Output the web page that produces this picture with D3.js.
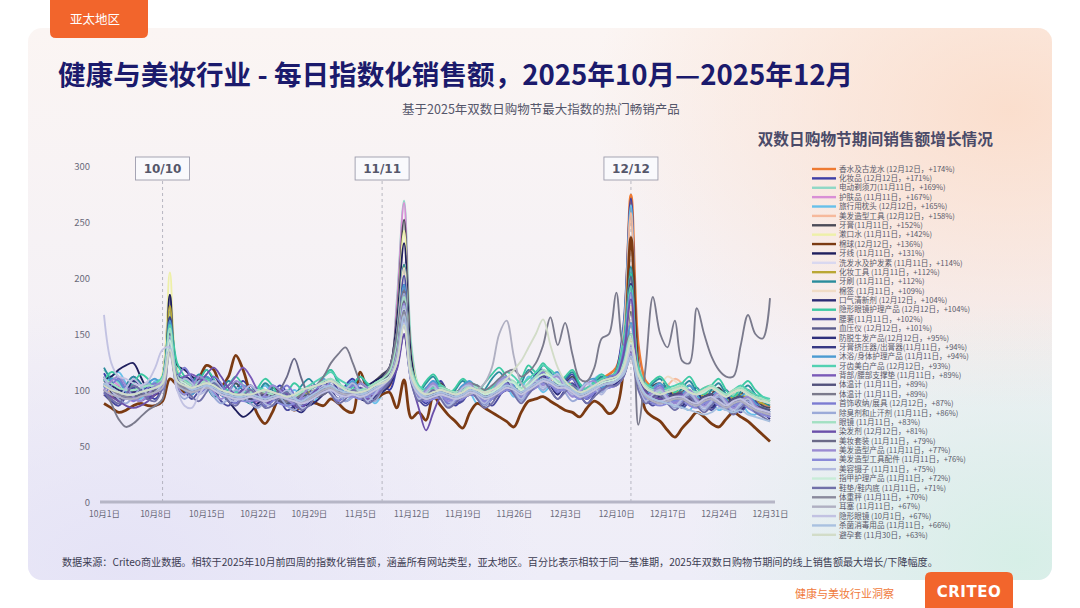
<!DOCTYPE html>
<html>
<head>
<meta charset="utf-8">
<script src="https://cdn.jsdelivr.net/npm/d3@7"></script>
<style>
  body{margin:0;background:#fff;font-family:"Noto Sans CJK SC","Noto Sans",sans-serif;}
  svg{display:block;}
</style>
</head>
<body>
<div class="canvas"></div>
<script>
// ---- data ----
const startDay = "2025-10-01";   // first day, one value per day up to 12/31
const endDay = "2025-12-31";

const xTickDates = ["2025-10-01","2025-10-08","2025-10-15","2025-10-22","2025-10-29","2025-11-05","2025-11-12",
                    "2025-11-19","2025-11-26","2025-12-03","2025-12-10","2025-12-17","2025-12-24","2025-12-31"];
const xTickLabels = ["10月1日","10月8日","10月15日","10月22日","10月29日","11月5日","11月12日",
                     "11月19日","11月26日","12月3日","12月10日","12月17日","12月24日","12月31日"];
const yTicks = [0,50,100,150,200,250,300];

const markerLabels = ["10/10","11/11","12/12"];
const markerDates = ["2025-10-09","2025-11-08","2025-12-12"];

const legendLabels = [
  "香水及古龙水 (12月12日，+174%)","化妆品 (12月12日，+171%)","电动剃须刀(11月11日，+169%)",
  "护肤品 (11月11日，+167%)","旅行用枕头 (12月12日，+165%)","美发造型工具 (12月12日，+158%)",
  "牙膏(11月11日，+152%)","漱口水 (11月11日，+142%)","棉球(12月12日，+136%)",
  "牙线 (11月11日，+131%)","洗发水及护发素  (11月11日，+114%)","化妆工具 (11月11日，+112%)",
  "牙刷 (11月11日，+112%)","棉签 (11月11日，+109%)","口气清新剂 (12月12日，+104%)",
  "隐形眼镜护理产品 (12月12日，+104%)","腰薯(11月11日，+102%)","血压仪 (12月12日，+101%)",
  "防脱生发产品(12月12日，+95%)","牙膏挤压器/出膏器(11月11日，+94%)","沐浴/身体护理产品 (11月11日，+94%)",
  "牙齿美白产品 (12月12日，+93%)","背部/腰部支撑垫 (11月11日，+89%)","体温计 (11月11日，+89%)",
  "体温计 (11月11日，+89%)","首饰收纳/展具 (12月12日，+87%)","除臭剂和止汗剂 (11月11日，+86%)",
  "眼镜 (11月11日，+83%)","染发剂 (12月12日，+81%)","美妆套装 (11月11日，+79%)",
  "美发造型产品 (11月11日，+77%)","美发造型工具配件 (11月11日，+76%)","美容镊子 (11月11日，+75%)",
  "指甲护理产品 (11月11日，+72%)","鞋垫/鞋内底 (11月11日，+71%)","体重秤 (11月11日，+70%)",
  "耳塞 (11月11日，+67%)","隐形眼镜 (10月1日，+67%)","杀菌消毒用品 (11月11日，+66%)",
  "避孕套 (11月30日，+63%)"
];

// daily index values, Oct 1 .. Dec 31 (92 per product, same order as legend)
const seriesValues = [
  [96,94,92,95,98,97,95,96,104,150, 112,102,100,103,105,102,98,97,95,96, 94,92,94,96,95,92,90,92,95,98, 102,104,100,98,96,95,98,102,100,104, 125,172,118,100,96,98,100,97,95,98, 100,98,96,98,102,104,100,98,102,108, 112,110,106,108,104,100,102,106,110,114, 120,150,274,140,108,102,98,96,100,102, 96,94,98,100,96,94,98,100,94,92, 88,84],
  [115,104,96,104,112,106,96,92,104,160, 118,104,96,108,118,108,96,92,100,108, 100,90,86,96,104,98,88,84,92,102, 108,98,92,104,110,100,90,96,106,100, 120,180,116,96,88,100,108,96,86,94, 106,100,88,92,104,112,102,92,102,114, 118,106,96,108,114,100,92,104,112,106, 118,160,271,130,100,90,98,104,94,88, 96,102,92,86,94,100,90,84,92,94, 84,78],
  [118,112,106,100,96,98,102,104,112,170, 110,104,100,102,106,104,100,98,96,94, 96,100,104,98,94,92,90,94,98,100, 104,108,102,100,98,96,100,106,110,116, 180,269,140,104,98,100,102,98,96,100, 104,100,96,98,102,106,104,100,106,112, 116,112,106,104,100,96,98,102,106,108, 112,130,190,120,100,96,94,96,98,100, 96,94,98,100,98,94,96,98,94,92, 90,88],
  [100,108,104,94,90,96,104,100,110,160, 104,96,100,108,112,104,96,92,98,102, 96,88,92,100,98,90,86,92,98,100, 96,104,100,94,98,102,96,100,106,114, 175,267,126,96,100,104,96,90,94,102, 104,96,92,98,106,110,102,96,104,110, 106,110,108,100,96,100,104,106,100,104, 110,125,175,110,96,100,102,94,88,94, 100,92,86,92,98,90,86,90,94,88, 86,84],
  [104,112,116,106,96,92,100,108,110,155, 106,98,104,114,108,96,90,96,106,100, 92,98,104,96,88,92,100,94,86,92, 104,110,100,90,96,106,98,88,96,108, 122,175,108,92,100,108,98,88,94,104, 98,88,92,102,110,104,94,100,112,106, 98,104,114,108,98,92,100,110,114,108, 116,155,265,120,96,88,94,102,96,86, 82,92,98,90,82,86,94,90,80,78, 84,80],
  [100,98,96,94,96,98,96,98,106,165, 110,104,102,104,106,104,100,98,96,94, 92,94,96,94,92,90,92,94,96,98, 102,100,98,96,94,96,100,104,102,108, 130,185,120,100,96,98,100,96,94,98, 100,98,96,100,104,108,104,100,104,108, 112,110,106,104,102,98,100,104,108,110, 116,150,258,128,104,100,98,104,110,106, 100,98,102,104,98,96,100,102,96,94, 92,90],
  [110,98,90,96,104,100,92,96,112,185, 112,100,96,106,112,104,96,100,106,98, 90,86,94,102,98,88,86,94,102,104, 100,108,104,96,100,106,102,108,114,120, 165,252,130,100,94,102,106,98,92,100, 106,98,92,98,106,110,100,94,104,112, 116,108,100,106,112,102,96,104,108,104, 112,128,170,112,98,104,106,98,92,98, 104,96,90,96,102,94,88,96,100,92, 86,84],
  [108,104,100,98,96,98,100,102,115,205, 118,108,104,106,108,104,100,98,96,96, 98,96,94,96,98,96,92,94,98,102, 106,108,104,100,98,98,102,106,110,118, 160,242,130,104,100,102,104,100,98,100, 104,102,98,100,104,108,104,100,106,112, 116,112,106,106,102,98,100,104,108,110, 114,130,175,118,104,100,98,100,102,104, 98,96,100,102,98,96,98,100,96,94, 92,90],
  [88,84,80,82,86,88,86,86,90,110, 104,98,100,110,122,118,104,112,131,118, 96,78,70,80,93,88,82,86,90,88, 86,92,88,82,80,116,100,92,96,98, 84,109,75,80,73,94,86,78,72,66, 80,88,84,80,76,72,67,80,90,92, 94,90,86,82,80,76,84,90,86,79, 84,120,236,120,82,76,72,64,58,66, 73,80,76,70,67,74,80,76,72,66, 60,54],
  [110,112,118,122,124,112,100,96,104,185, 122,118,112,108,104,100,96,90,82,76, 80,88,92,96,98,94,90,94,98,102, 106,104,100,96,98,100,104,108,112,120, 160,231,128,100,96,98,100,96,94,96, 100,98,94,92,96,100,98,94,100,106, 110,106,100,102,98,94,96,100,104,106, 110,120,160,112,100,96,94,96,98,96, 92,90,94,96,92,88,92,94,90,86, 84,82],
  [96,106,110,100,92,96,104,100,98,150, 100,94,100,108,104,94,90,96,102,98, 90,86,92,100,96,88,84,90,98,102, 98,106,102,94,98,104,100,96,104,116, 150,214,114,96,100,104,96,88,92,100, 104,96,90,96,104,110,100,94,102,108, 104,112,110,100,94,98,104,106,100,104, 108,120,150,108,96,100,102,94,88,94, 100,92,86,92,98,90,84,90,94,86, 84,82],
  [104,100,98,96,96,98,100,102,108,175, 110,104,100,102,106,104,100,96,94,94, 94,96,98,96,92,90,92,96,98,100, 102,100,98,96,96,98,102,104,108,114, 145,212,118,98,94,96,98,96,94,98, 100,98,96,98,102,104,100,96,100,106, 108,106,102,102,98,96,98,102,104,106, 110,118,145,110,98,96,94,96,98,98, 94,92,96,96,92,90,94,96,92,90, 88,86],
  [120,108,98,104,112,106,98,102,112,165, 104,96,106,114,104,94,98,108,102,92, 88,96,106,100,90,86,94,104,110,104, 112,118,106,96,104,112,104,98,108,116, 148,212,118,98,106,112,100,92,100,108, 102,94,100,110,116,108,98,106,118,112, 122,116,104,110,116,104,96,106,112,104, 114,130,210,116,98,106,110,100,94,102, 108,98,92,100,106,96,90,98,104,96, 90,86],
  [102,100,98,96,96,98,98,100,106,158, 108,104,102,104,106,104,100,98,96,96, 94,94,96,94,92,90,92,94,96,98, 100,102,100,98,96,96,100,104,106,114, 146,209,118,100,96,98,100,98,96,98, 100,98,96,98,102,106,102,98,102,108, 112,110,106,104,100,98,100,104,106,108, 110,124,160,114,102,98,104,112,108,102, 98,96,100,102,98,96,98,100,96,94, 92,90],
  [108,104,100,98,96,98,102,104,110,150, 112,106,102,104,106,102,98,96,94,92, 92,90,88,86,90,92,90,88,86,90, 96,100,98,94,96,92,90,94,98,104, 120,149,108,96,92,94,96,94,90,92, 96,94,90,92,96,100,98,94,98,104, 108,106,100,102,98,94,96,100,104,108, 114,140,204,116,98,94,92,90,94,96, 90,88,92,94,90,86,90,92,86,84, 80,76],
  [108,116,112,100,106,114,110,100,108,160, 124,112,100,108,118,110,98,104,112,104, 96,102,110,104,94,98,106,100,92,100, 112,118,108,98,104,112,106,100,110,116, 130,170,116,100,108,114,104,96,102,110, 104,98,106,114,120,112,104,110,122,116, 124,114,106,112,118,106,100,108,114,110, 118,145,204,118,102,108,112,104,98,106, 112,102,96,104,110,100,94,102,108,100, 94,90],
  [96,90,86,94,102,98,92,100,108,145, 112,100,92,100,110,102,90,86,94,100, 94,86,90,98,92,82,86,96,100,94, 98,108,100,90,94,102,96,104,110,112, 140,202,112,92,86,94,102,96,88,90, 100,104,94,86,94,104,100,90,98,108, 112,100,92,100,106,96,88,96,106,104, 106,116,140,104,92,86,92,98,90,84, 90,96,88,82,90,96,86,80,88,90, 80,76],
  [104,100,98,96,94,96,98,100,106,140, 108,104,100,102,104,100,96,94,92,92, 94,92,90,92,94,92,90,88,90,94, 98,100,96,94,96,94,92,96,100,106, 125,160,110,96,92,94,96,94,92,94, 98,96,92,94,98,102,100,96,100,106, 110,108,102,104,100,96,98,102,106,110, 116,140,201,118,100,96,94,92,96,98, 92,90,94,96,92,88,92,94,88,86, 84,80],
  [112,100,92,98,108,104,94,100,110,148, 104,112,108,98,104,112,104,94,88,96, 104,96,86,90,100,96,84,80,88,98, 106,100,92,98,106,100,90,94,104,108, 124,165,108,92,98,104,96,86,90,100, 104,94,86,92,102,108,98,90,100,110, 114,104,96,106,110,98,92,100,108,112, 114,138,195,110,94,88,96,100,92,86, 94,98,88,84,92,96,86,82,90,88, 80,74],
  [110,106,102,100,98,100,102,104,110,165, 114,108,104,106,108,104,100,98,96,94, 94,92,92,94,96,94,92,90,92,96, 100,104,100,98,98,96,98,102,106,112, 140,194,114,98,94,96,98,96,94,96, 100,98,94,96,100,104,100,96,100,104, 108,106,102,102,98,94,96,100,102,104, 106,114,135,108,96,94,92,94,96,96, 92,90,94,96,92,88,92,94,90,86, 84,82],
  [102,110,108,98,92,98,106,110,104,162, 108,100,96,104,112,106,96,92,98,104, 100,92,96,104,100,90,88,96,100,104, 110,104,96,102,108,100,94,100,108,114, 142,194,112,96,102,108,100,92,96,104, 108,100,92,98,106,112,104,96,106,112, 106,112,116,104,96,100,108,110,102,108, 112,126,160,112,96,102,106,96,90,96, 104,96,88,94,100,92,86,94,98,88, 84,82],
  [110,106,102,100,100,102,104,106,112,158, 116,110,106,108,110,106,102,100,98,98, 100,102,100,98,96,94,96,100,104,108, 112,116,110,106,102,100,102,106,110,114, 128,168,120,104,100,102,104,100,98,102, 106,104,100,102,108,116,112,106,110,116, 122,118,112,108,104,100,102,106,110,112, 116,142,193,122,106,102,100,102,104,106, 100,98,102,104,100,96,100,104,100,96, 94,92],
  [104,100,96,94,92,90,94,98,104,150, 110,112,114,110,106,104,100,104,112,120, 112,100,94,92,94,92,88,90,94,96, 98,100,96,94,96,94,92,96,100,108, 130,189,112,94,90,92,94,92,90,92, 96,94,90,92,96,100,98,94,98,102, 106,104,100,100,96,92,94,98,100,102, 104,112,135,106,94,90,88,90,92,92, 88,86,90,92,88,84,88,90,86,82, 80,78],
  [106,102,98,96,94,96,98,100,106,150, 108,104,100,102,104,102,98,96,94,92, 92,94,96,94,90,88,90,94,96,98, 100,102,98,96,96,98,100,104,108,114, 140,189,114,98,94,96,98,96,94,96, 100,98,94,96,100,104,102,98,102,106, 110,108,104,102,98,96,98,102,104,106, 108,118,140,110,98,94,92,94,96,96, 92,90,94,96,92,88,92,94,90,86, 84,82],
  [100,88,74,67,70,76,82,86,92,140, 112,106,102,104,106,102,98,96,94,92, 94,96,98,96,92,90,92,96,100,104, 112,124,132,138,124,108,102,104,110,120, 150,189,120,100,96,98,102,100,98,102, 106,104,100,104,110,116,118,112,116,124, 140,165,140,160,132,110,108,120,146,150, 187,140,150,69,120,183,150,138,162,126, 124,173,150,130,118,112,112,140,167,150, 146,182],
  [96,104,110,100,90,94,102,106,100,145, 112,120,110,98,102,112,106,94,88,94, 100,94,86,90,98,104,96,86,90,100, 106,98,90,96,104,100,90,96,104,108, 122,160,108,94,100,106,98,88,90,98, 104,96,88,92,100,106,98,90,100,110, 116,106,98,104,110,100,92,98,106,112, 114,136,187,110,94,100,104,94,88,94, 100,92,86,92,98,90,84,90,94,86, 80,76],
  [110,100,92,88,94,102,106,100,106,148, 100,92,98,108,104,94,88,92,100,96, 88,84,90,98,94,86,82,88,96,100, 96,104,98,90,94,100,96,90,100,110, 136,186,108,92,96,100,92,86,90,98, 100,92,86,92,100,104,96,90,98,104, 100,106,108,98,90,94,100,104,98,104, 108,116,138,104,92,96,98,90,84,90, 96,88,82,88,94,86,80,86,90,82, 78,76],
  [110,106,102,100,100,102,104,104,110,155, 112,108,104,106,108,104,100,98,96,96, 98,100,98,96,94,92,94,98,100,104, 108,110,106,102,100,100,102,106,110,116, 140,183,118,102,98,100,102,100,98,100, 104,102,98,100,104,110,108,102,106,112, 118,114,108,106,102,98,100,104,108,110, 112,124,150,116,104,100,98,100,102,104, 100,98,100,104,100,96,100,102,98,94, 92,90],
  [98,94,90,86,84,86,90,96,102,140, 110,104,98,106,114,120,112,102,96,100, 104,96,88,92,100,96,86,84,92,100, 100,102,98,96,96,94,96,100,104,108, 118,150,108,84,64,80,94,98,94,96, 98,96,92,94,98,102,100,96,100,104, 110,108,102,102,98,94,96,100,104,108, 112,132,181,112,98,94,92,90,94,96, 90,88,92,94,90,86,90,92,86,84, 80,76],
  [106,102,98,96,94,96,98,100,104,142, 108,104,100,102,104,100,96,94,92,92, 94,92,90,94,100,112,128,110,96,94, 96,100,98,96,96,94,96,100,104,110, 134,179,112,96,92,94,96,94,92,94, 98,96,92,94,98,102,100,96,100,104, 108,106,102,102,98,94,96,100,104,106, 108,116,136,108,96,92,90,92,94,94, 90,88,92,94,90,86,90,92,88,84, 82,80],
  [100,108,112,104,94,90,96,104,108,142, 104,96,102,112,108,98,92,98,108,104, 96,90,96,104,100,92,88,94,102,104, 100,108,104,94,98,106,102,96,104,112, 132,177,108,94,100,106,98,90,94,102, 106,96,90,98,108,112,102,94,104,110, 104,110,112,102,94,98,106,108,100,104, 108,118,140,106,94,98,102,94,88,94, 100,92,86,92,98,90,84,90,94,86, 82,80],
  [100,96,94,92,92,94,96,98,104,138, 106,102,98,100,102,100,96,94,92,90, 90,92,94,92,88,86,88,92,94,96, 98,100,96,94,94,92,94,98,102,108, 128,176,110,94,90,92,94,92,90,92, 96,94,90,92,96,100,98,94,98,102, 106,104,100,100,96,92,94,98,100,102, 104,112,132,104,92,88,86,88,90,90, 86,84,88,90,86,82,86,88,84,80, 78,76],
  [112,100,94,102,110,104,96,98,108,145, 104,110,106,96,100,108,102,92,90,98, 104,98,88,86,94,100,94,84,86,96, 104,98,92,100,106,98,90,96,106,110, 130,175,106,92,98,104,94,86,92,102, 104,94,88,96,106,110,100,92,102,108, 102,110,114,104,96,100,106,102,96,104, 108,116,138,104,90,96,100,92,86,92, 98,90,84,90,96,88,82,88,92,84, 80,78],
  [106,102,98,96,96,98,100,102,106,144, 110,106,102,104,106,104,100,98,96,96, 96,98,100,98,96,94,96,100,102,104, 106,108,104,100,98,98,100,104,108,112, 128,172,114,100,96,98,100,98,96,98, 102,100,96,98,102,108,106,100,104,110, 114,112,106,104,100,96,98,102,106,108, 110,120,142,114,102,98,96,98,100,102, 98,96,98,102,98,94,98,100,96,92, 90,88],
  [98,92,88,96,104,100,92,90,102,136, 110,102,94,90,98,106,100,90,86,94, 100,94,84,86,94,98,90,82,86,96, 102,96,88,92,100,96,88,92,100,108, 126,171,106,90,94,100,92,84,88,96, 100,92,84,88,98,104,96,88,96,104, 108,100,92,98,104,96,88,94,100,104, 104,112,130,100,88,92,96,88,82,88, 94,86,80,86,92,84,78,84,88,80, 76,72],
  [104,100,96,94,92,94,96,98,102,134, 106,102,98,100,102,100,96,94,92,92, 94,92,90,92,94,92,90,88,92,96, 100,102,98,96,96,94,96,100,104,110, 128,170,110,96,92,94,96,94,92,94, 98,96,92,94,98,102,100,96,100,104, 108,106,102,102,98,94,96,100,104,106, 108,114,130,106,94,90,88,90,92,92, 88,86,90,92,88,84,88,90,86,82, 80,78],
  [100,96,94,92,92,94,96,98,102,132, 104,100,98,100,102,100,96,94,92,92, 94,92,90,92,94,92,90,88,92,96, 100,102,98,96,96,94,96,100,104,110, 126,167,110,96,92,94,96,94,92,94, 96,100,106,120,150,162,130,106,100,104, 108,106,102,102,98,94,96,100,104,106, 108,114,128,106,94,90,88,90,92,92, 88,86,90,92,88,84,88,90,86,82, 80,78],
  [167,124,112,110,106,104,108,120,136,138, 100,86,84,96,104,100,96,94,92,92, 94,92,90,92,94,92,90,88,90,94, 98,100,96,94,96,94,96,100,104,110, 124,160,108,96,92,94,96,94,92,94, 98,96,92,94,98,102,100,96,100,104, 108,106,102,102,98,94,96,100,104,106, 108,116,136,108,96,92,90,92,94,94, 90,88,92,94,90,86,90,92,88,84, 82,80],
  [106,102,98,96,96,98,100,102,106,138, 108,104,100,102,104,102,98,96,94,94, 96,94,92,94,96,94,92,90,94,98, 102,104,100,98,98,96,98,102,106,110, 126,166,110,98,94,96,98,96,94,96, 100,98,94,96,100,104,102,98,102,106, 110,108,104,104,100,96,98,102,104,106, 108,114,130,108,96,92,90,88,86,84, 82,80,78,80,84,82,80,82,78,76, 74,72],
  [104,100,98,96,96,98,100,102,106,136, 108,104,102,104,106,104,100,98,96,96, 96,98,100,98,96,94,96,100,102,104, 106,108,104,100,98,98,100,104,106,110, 124,158,112,100,96,98,100,98,96,98, 102,100,98,100,104,110,118,126,138,150, 163,140,120,108,102,98,100,104,108,110, 112,120,145,114,102,98,96,98,100,102, 98,96,100,102,98,94,98,100,96,92, 90,88]
];

// ---- styles ----
const palette = ["#ee7a32","#3d3fa6","#8fd8c6","#d98fd6","#67c0ea","#f6b99c","#4b4b58","#eef0a8","#7b3a12","#1f1f5e",
                 "#d9d8f0","#b9a735","#2a8c9c","#f0dcc6","#2b2b74","#3cc9a2","#4b4b9e","#5c5c8c","#2f2f7c","#383884",
                 "#4c9bd2","#52d1b2","#7a5ab8","#52527c","#7a7a8c","#7b7bd2","#9baad8","#a2e0c2","#6b50aa","#6a6a88",
                 "#9b8bd2","#8a8ad8","#b2badf","#c8ecd8","#7070a8","#8a8a9c","#b0b0c2","#c2c2e2","#a9c1e0","#d2dcc8"];
const thick = new Set([0,8]);

const W = 1080, H = 608;
const svg = d3.select('.canvas').append('svg').attr('width', W).attr('height', H);
const defs = svg.append('defs');

// card background
const base = defs.append('linearGradient').attr('id','base').attr('x1',0).attr('y1',0).attr('x2',0).attr('y2',1);
base.append('stop').attr('offset','0%').attr('stop-color','#fbf5f3');
base.append('stop').attr('offset','100%').attr('stop-color','#eeedf8');
const glow = (id, c) => {
  const g = defs.append('radialGradient').attr('id', id);
  g.append('stop').attr('offset','0%').attr('stop-color', c).attr('stop-opacity', 0.9);
  g.append('stop').attr('offset','100%').attr('stop-color', c).attr('stop-opacity', 0);
};
glow('peach','#fbdcc9');
glow('mint','#d4efe5');
glow('lav','#e4e2f6');
defs.append('clipPath').attr('id','card').append('rect')
  .attr('x',28).attr('y',28).attr('width',1024).attr('height',552).attr('rx',14);

const card = svg.append('g').attr('clip-path','url(#card)');
card.append('rect').attr('x',28).attr('y',28).attr('width',1024).attr('height',552).attr('fill','url(#base)');
card.append('ellipse').attr('cx',1010).attr('cy',110).attr('rx',420).attr('ry',300).attr('fill','url(#peach)');
card.append('ellipse').attr('cx',1020).attr('cy',560).attr('rx',330).attr('ry',260).attr('fill','url(#mint)');
card.append('ellipse').attr('cx',120).attr('cy',560).attr('rx',420).attr('ry',260).attr('fill','url(#lav)');

// region tab
svg.append('path')
  .attr('d','M50,0 H148 V32 Q148,38 142,38 H56 Q50,38 50,32 Z')
  .attr('fill','#f2652c');
svg.append('text').attr('x',70).attr('y',24).text('亚太地区')
  .attr('fill','#fff').attr('font-size',12.5);

// titles
svg.append('text').attr('x',58).attr('y',85)
  .text('健康与美妆行业 - 每日指数化销售额，2025年10月—2025年12月')
  .attr('fill','#1b1a6c').attr('font-size',27.6).attr('font-weight',700);
svg.append('text').attr('x',541).attr('y',114).attr('text-anchor','middle')
  .text('基于2025年双数日购物节最大指数的热门畅销产品')
  .attr('fill','#55566a').attr('font-size',12.5);
svg.append('text').attr('x',993).attr('y',145).attr('text-anchor','end')
  .text('双数日购物节期间销售额增长情况')
  .attr('fill','#4a4a68').attr('font-size',15.7).attr('font-weight',700);

// scales
const parse = d3.timeParse('%Y-%m-%d');
const days = d3.timeDay.range(parse(startDay), d3.timeDay.offset(parse(endDay), 1));
const x = d3.scaleTime().domain([parse(startDay), parse(endDay)]).range([104, 770]);
const y = d3.scaleLinear().domain([0, 300]).range([502, 166]);

const graph = svg.append('g');

// axes
const xAxis = d3.axisBottom(x).tickValues(xTickDates.map(parse))
  .tickFormat((d,i) => xTickLabels[i]).tickSize(0).tickPadding(9);
const yAxis = d3.axisLeft(y).tickValues(yTicks).tickSize(0).tickPadding(14);
const xg = graph.append('g').attr('transform','translate(0,502)').call(xAxis);
const yg = graph.append('g').attr('transform','translate(104,0)').call(yAxis);
[xg, yg].forEach(g => {
  g.select('.domain').remove();
  g.selectAll('text').attr('fill','#6a6a7a').attr('font-family','"Noto Sans CJK SC",sans-serif');
});
xg.selectAll('text').attr('font-size',8.5);
yg.selectAll('text').attr('font-size',9.5);

// event markers
markerDates.forEach((d,i) => {
  const mx = x(parse(d));
  graph.append('line').attr('x1',mx).attr('x2',mx).attr('y1',181).attr('y2',502)
    .attr('stroke','#a8a8b4').attr('stroke-width',0.8).attr('stroke-dasharray','3,3');
  graph.append('rect').attr('x',mx-27).attr('y',157).attr('width',54).attr('height',23)
    .attr('fill','#f9f9fc').attr('stroke','#9c9cac').attr('stroke-width',0.9);
  graph.append('text').attr('x',mx).attr('y',173).attr('text-anchor','middle')
    .text(markerLabels[i]).attr('fill','#55566a').attr('font-size',12).attr('font-weight',700)
    .attr('font-family','"DejaVu Sans",sans-serif');
});

// lines, first legend entry drawn first (underneath)
const line = d3.line()
  .x((d,i) => x(days[i]))
  .y(d => y(d))
  .curve(d3.curveCatmullRom.alpha(0.5));

graph.selectAll('path.series')
  .data(d3.range(seriesValues.length))
  .enter().append('path')
  .attr('class','series')
  .attr('d', i => line(seriesValues[i]))
  .attr('fill','none')
  .attr('stroke', i => palette[i])
  .attr('stroke-width', i => thick.has(i) ? 2.8 : 1.85)
  .attr('stroke-linejoin','round');

graph.append('line').attr('x1',100).attr('x2',775).attr('y1',502).attr('y2',502)
  .attr('stroke','#b6b6c6').attr('stroke-width',3);

// legend
const legend = svg.append('g').attr('transform','translate(812,169)');
const item = legend.selectAll('g').data(legendLabels).enter().append('g')
  .attr('transform', (d,i) => `translate(0,${i*9.38})`);
item.append('line').attr('x1',0).attr('x2',24).attr('y1',0).attr('y2',0)
  .attr('stroke', (d,i) => palette[i]).attr('stroke-width',2.4);
item.append('text').attr('x',27).attr('y',2.7).text(d => d)
  .attr('fill','#585868').attr('font-size',7.6);

// footer
svg.append('text').attr('x',62).attr('y',566)
  .text('数据来源：Criteo商业数据。相较于2025年10月前四周的指数化销售额，涵盖所有网站类型，亚太地区。百分比表示相较于同一基准期，2025年双数日购物节期间的线上销售额最大增长/下降幅度。')
  .attr('fill','#3c3c52').attr('font-size',10.1);

svg.append('text').attr('x',795).attr('y',598).text('健康与美妆行业洞察')
  .attr('fill','#f07a3c').attr('font-size',11);
svg.append('path')
  .attr('d','M925,608 V578 Q925,572 931,572 H1007 Q1013,572 1013,578 V608 Z')
  .attr('fill','#f2652c');
svg.append('text').attr('x',969).attr('y',597).attr('text-anchor','middle').text('CRITEO')
  .attr('fill','#fff').attr('font-size',15).attr('font-weight',700)
  .attr('font-family','"DejaVu Sans",sans-serif').attr('letter-spacing',0.5);
</script>
</body>
</html>
